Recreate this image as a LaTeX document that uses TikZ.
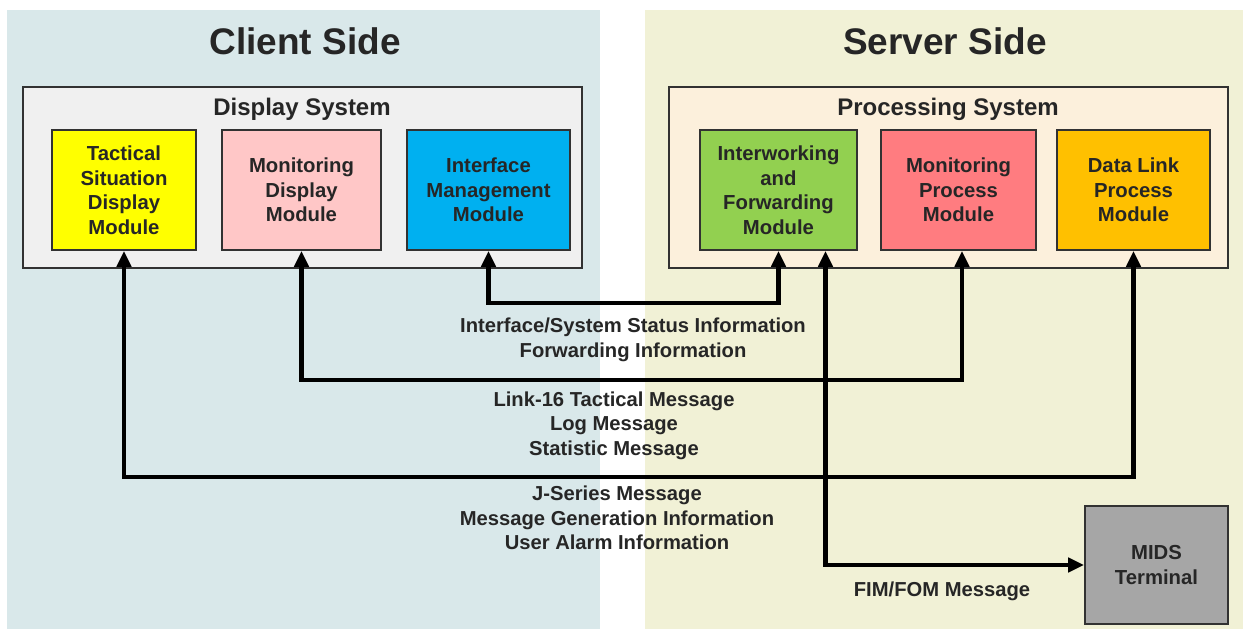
\documentclass[tikz,border=0pt]{standalone}
\usepackage{fontspec}
\setmainfont{Liberation Sans}
\usetikzlibrary{arrows.meta,calc}
\definecolor{clientbg}{RGB}{217,232,234}
\definecolor{serverbg}{RGB}{241,241,214}
\definecolor{dispfill}{RGB}{240,240,240}
\definecolor{procfill}{RGB}{252,240,220}
\definecolor{edgegray}{RGB}{50,50,50}
\definecolor{txt}{RGB}{38,38,38}
\definecolor{tacyellow}{RGB}{255,255,0}
\definecolor{monpink}{RGB}{255,199,199}
\definecolor{ifblue}{RGB}{0,176,240}
\definecolor{iwgreen}{RGB}{146,208,80}
\definecolor{mpred}{RGB}{255,124,128}
\definecolor{dlorange}{RGB}{255,192,0}
\definecolor{midsgray}{RGB}{166,166,166}
\tikzset{
  sidetitle/.style={font=\bfseries\fontsize{37}{42}\selectfont, text=txt},
  systitle/.style={font=\bfseries\fontsize{24}{28}\selectfont, text=txt},
  module/.style={draw=edgegray, line width=1.6pt, inner sep=0pt, align=center,
    text=txt, font=\bfseries\fontsize{20.3}{24.5}\selectfont},
  msg/.style={align=center, text=txt, font=\bfseries\fontsize{20.2}{24.5}\selectfont},
  biflow/.style={line width=4.3pt, draw=black, {Triangle[length=16pt,width=14pt]}-{Triangle[length=16pt,width=14pt]}},
}
\begin{document}
\begin{tikzpicture}[x=1pt,y=-1pt]
\useasboundingbox (0,0) rectangle (1243,629);
\fill[white] (0,0) rectangle (1243,629);

% side backgrounds
\fill[clientbg] (7,10) rectangle (600,629);
\fill[serverbg] (645,10) rectangle (1243,629);
\node[sidetitle] (clienttitle) at (305,41) {Client Side};
\node[sidetitle] (servertitle) at (945,41) {Server Side};

% system frames
\draw[draw=edgegray, line width=1.4pt, fill=dispfill] (23,87) rectangle (582,268);
\draw[draw=edgegray, line width=1.4pt, fill=procfill] (669,87) rectangle (1228,268);
\node[systitle] (disptitle) at (302,109) {Display System};
\node[systitle] (proctitle) at (948,109) {Processing System};

% client modules
\node[module, fill=tacyellow, minimum width=144pt, minimum height=120pt] (tsd) at (124,190)
  {Tactical\\Situation\\Display\\Module};
\node[module, fill=monpink, minimum width=159pt, minimum height=120pt] (mdm) at (301.5,190)
  {Monitoring\\Display\\Module};
\node[module, fill=ifblue, minimum width=163pt, minimum height=120pt] (imm) at (488.5,190)
  {Interface\\Management\\Module};

% server modules
\node[module, fill=iwgreen, minimum width=157pt, minimum height=120pt] (ifm) at (778.5,190)
  {Interworking\\and\\Forwarding\\Module};
\node[module, fill=mpred, minimum width=155pt, minimum height=120pt] (mpm) at (958.5,190)
  {Monitoring\\Process\\Module};
\node[module, fill=dlorange, minimum width=153pt, minimum height=120pt] (dlm) at (1133.5,190)
  {Data Link\\Process\\Module};
\node[module, fill=midsgray, minimum width=143pt, minimum height=118pt] (mids) at (1156.5,565)
  {MIDS\\Terminal};

% connectors
\coordinate (ifmfwd) at ($(ifm.south)+(47,0)$);
\coordinate (mpmin) at ($(mpm.south)+(3.5,0)$);
\draw[biflow] (imm.south) |- (640,303) -| (ifm.south);
\draw[biflow] (mdm.south) |- (640,380) -| (mpmin);
\draw[biflow] (tsd.south) |- (640,477) -| (dlm.south);
\draw[biflow] (ifmfwd) |- (mids.west);

% flow labels
\node[msg] (lbl1) at (633,340) {Interface/System Status Information\\Forwarding Information};
\node[msg] (lbl2) at (614,425.5) {Link-16 Tactical Message\\Log Message\\Statistic Message};
\node[msg] (lbl3) at (617,518) {J-Series Message\\Message Generation Information\\User Alarm Information};
\node[msg] (lbl4) at (942,591) {FIM/FOM Message};
\end{tikzpicture}
\end{document}
